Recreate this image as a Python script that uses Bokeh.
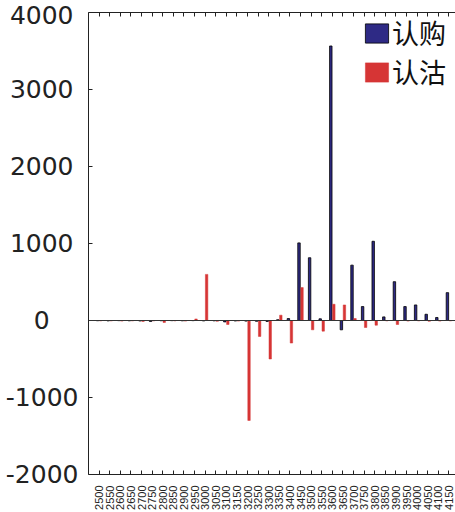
import math
from bokeh.plotting import figure
from bokeh.models import (ColumnDataSource, Range1d, FixedTicker, LinearAxis, Span,
                          Label, Legend, LegendItem)
from bokeh.transform import dodge
from bokeh.embed import file_html
from bokeh.resources import INLINE

# ---- data ----
strikes = [2500, 2550, 2600, 2650, 2700, 2750, 2800, 2850, 2900, 2950,
           3000, 3050, 3100, 3150, 3200, 3250, 3300, 3350, 3400, 3450,
           3500, 3550, 3600, 3650, 3700, 3750, 3800, 3850, 3900, 3950,
           4000, 4050, 4100, 4150]
calls = [-3, -5, -2, -4, -6, -12, -3, -2, -4, -2,
         -5, -4, -18, -6, -8, -10, -12, 10, 25, 1008,
         815, 22, 3565, -121, 719, 181, 1029, 47, 504, 181,
         202, 81, 39, 362]
puts = [-5, -5, -8, -5, -12, -5, -25, -5, -8, 20,
        599, -10, -52, -8, -1298, -207, -500, 69, -293, 427,
        -121, -138, 211, 202, 25, -91, -61, -5, -52, -8,
        -5, -10, -8, -5]
y_ticks = [-2000, -1000, 0, 1000, 2000, 3000, 4000]
y_tick_labels = ["-2000", "-1000", "0", "1000", "2000", "3000", "4000"]
series_names = ["认购", "认沽"]
title_text = "图3：黄金期权2021-06合约持仓量变化量"

BLUE = "#2E2A85"
RED = "#D63535"
AXIS = "#222222"

pos = list(range(1, len(strikes) + 1))
src = ColumnDataSource(dict(pos=pos, calls=calls, puts=puts))

p = figure(width=455, height=512, output_backend="svg", toolbar_location=None,
           x_range=Range1d(0, 34.62), y_range=Range1d(-2000, 4000),
           min_border_left=88, min_border_right=0, min_border_top=12,
           min_border_bottom=36)
p.outline_line_color = None
p.xgrid.visible = False
p.ygrid.visible = False
p.background_fill_color = "white"
p.border_fill_color = "white"

r1 = p.vbar(x=dodge("pos", -0.143, range=p.x_range), top="calls", width=0.23,
            fill_color=BLUE, line_color="black", line_width=0.8, source=src)
r2 = p.vbar(x=dodge("pos", 0.143, range=p.x_range), top="puts", width=0.23,
            fill_color=RED, line_color=RED, line_width=0.5, source=src)

p.add_layout(Span(location=0, dimension="width", line_color="#333333", line_width=1))


# y axis; labels visually centred (the reference centres them) by padding
# the narrower ones on the right with typographic spaces
def centred(txt):
    if txt.startswith("-"):
        return txt
    if len(txt) == 1:
        return txt + "\u2007\u2008\u2009"
    return txt + "\u2009"


ya = p.yaxis[0]
ya.ticker = FixedTicker(ticks=y_ticks)
ya.major_label_overrides = {t: centred(s) for t, s in zip(y_ticks, y_tick_labels)}
ya.major_tick_in = 4
ya.major_tick_out = 0
ya.minor_tick_line_color = None
ya.axis_line_color = AXIS
ya.major_tick_line_color = AXIS
ya.major_label_text_font = "DejaVu Sans"
ya.major_label_text_font_size = "25px"
ya.major_label_text_color = AXIS
ya.major_label_standoff = 10

# x axis (bottom)
xa = p.xaxis[0]
xa.ticker = FixedTicker(ticks=pos)
xa.major_label_overrides = {i: str(s) for i, s in zip(pos, strikes)}
xa.major_label_orientation = math.pi / 2
xa.major_tick_in = 4
xa.major_tick_out = 0
xa.minor_tick_line_color = None
xa.axis_line_color = AXIS
xa.major_tick_line_color = AXIS
xa.major_label_text_font = "Liberation Sans"
xa.major_label_text_font_size = "11px"
xa.major_label_text_color = AXIS
xa.major_label_standoff = 11

# top mirror axis (ticks only)
ta = LinearAxis(ticker=FixedTicker(ticks=pos), major_tick_in=4, major_tick_out=0,
                minor_tick_line_color=None, axis_line_color=AXIS,
                major_tick_line_color=AXIS, major_label_text_font_size="8px",
                major_label_standoff=0)
ta.major_label_overrides = {i: "" for i in pos}
p.add_layout(ta, "above")

legend = Legend(items=[LegendItem(label=series_names[0], renderers=[r1]),
                       LegendItem(label=series_names[1], renderers=[r2])],
                location="top_right", margin=1, padding=9, spacing=-5,
                glyph_width=29, glyph_height=24, label_standoff=1, label_width=62,
                label_text_font="Noto Sans CJK SC", label_text_font_size="27px",
                label_text_color="#111111", border_line_color=None,
                background_fill_alpha=0)
p.add_layout(legend)

# chart caption, mostly above the top edge as in the reference
p.add_layout(Label(x=9, y=465, x_units="screen", y_units="screen", text=title_text,
                   text_font="Noto Sans CJK SC", text_font_size="19px",
                   text_baseline="bottom", text_color="#333333"))

open("out.html", "w").write(file_html(p, INLINE))
